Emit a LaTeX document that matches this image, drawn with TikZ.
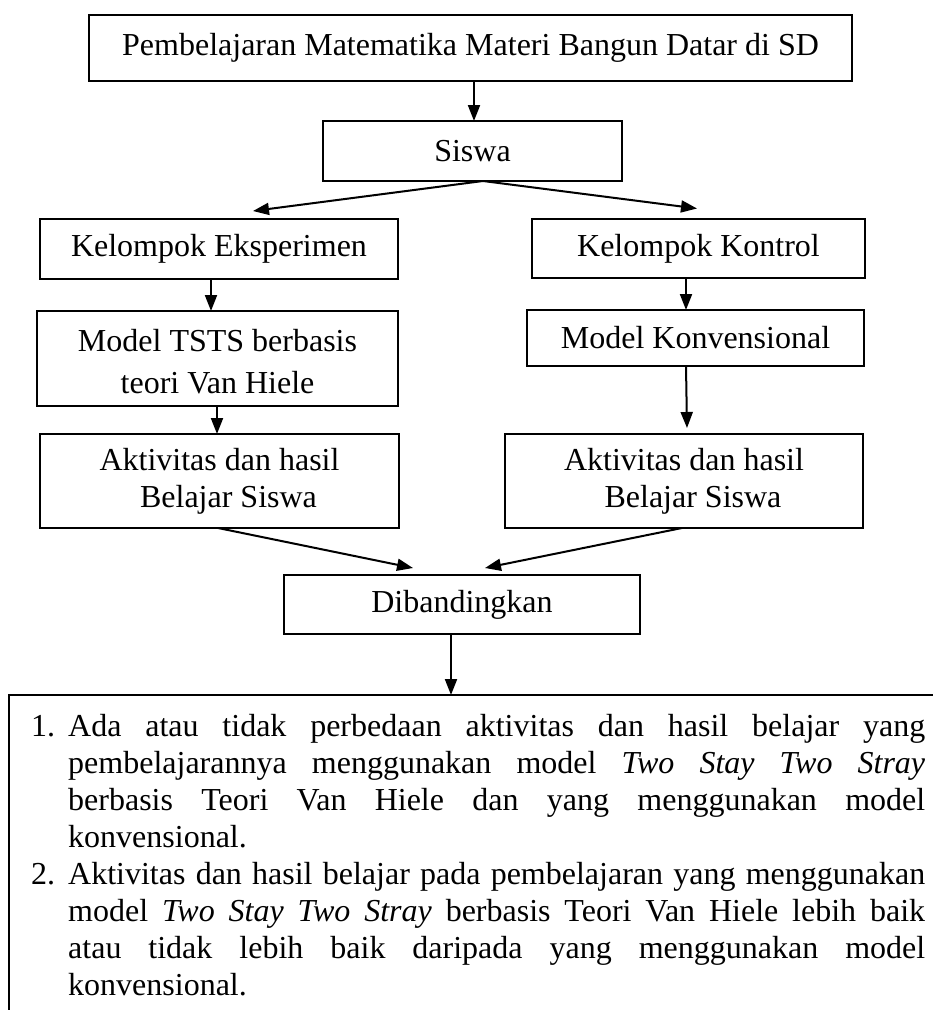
\documentclass[tikz,border=0pt]{standalone}
\usepackage{fontspec}
\setmainfont{Liberation Serif}
\usetikzlibrary{arrows.meta}
\begin{document}
\begin{tikzpicture}[x=1pt,y=-1pt,
  box/.style={draw,line width=1.5pt,inner sep=0pt,outer sep=0pt,align=center,font=\fontsize{32}{40}\selectfont},
  arr/.style={line width=2pt,-{Triangle[length=16pt,width=12pt]}},
  para/.style={anchor=base west,inner sep=0pt,text width=857pt,align=justify,font=\fontsize{32}{37.3}\selectfont},
  num/.style={anchor=base west,inner sep=0pt,font=\fontsize{32}{37.3}\selectfont}]
\useasboundingbox (0,0) rectangle (933,1010);
\node[box,minimum width=763pt,minimum height=66pt] (top) at (470.5,48) {Pembelajaran Matematika Materi Bangun Datar di SD};
\node[box,minimum width=299pt,minimum height=60pt] (siswa) at (472.5,151) {Siswa};
\node[box,minimum width=358pt,minimum height=60pt] (ke) at (219,249) {Kelompok Eksperimen};
\node[box,minimum width=333pt,minimum height=59pt] (kk) at (698.5,248.5) {Kelompok Kontrol};
\node[box,minimum width=361pt,minimum height=95pt,font=\fontsize{32}{42}\selectfont] (mt) at (217.5,358.5) {\rule{0pt}{28pt}Model TSTS berbasis\\teori Van Hiele};
\node[box,minimum width=337pt,minimum height=56pt] (mk) at (695.5,338) {Model Konvensional};
\node[box,minimum width=359pt,minimum height=94pt,font=\fontsize{32}{37}\selectfont] (al) at (219.5,481) {Aktivitas dan hasil\\\hspace*{18pt}Belajar Siswa};
\node[box,minimum width=358pt,minimum height=94pt,font=\fontsize{32}{37}\selectfont] (ar) at (684,481) {Aktivitas dan hasil\\\hspace*{18pt}Belajar Siswa};
\node[box,minimum width=356pt,minimum height=59pt] (dib) at (462,604.5) {Dibandingkan};
\begin{scope}
\clip (0,0) rectangle (933,1010);
\node[draw,line width=1.5pt,inner sep=0pt,outer sep=0pt,anchor=north west,minimum width=1000pt,minimum height=400pt] (res) at (9,695) {};
\end{scope}
\draw[arr] ([xshift=3.5pt]top.south) -- ([xshift=1.5pt]siswa.north);
\draw[arr] ([xshift=10.5pt]siswa.south) -- ([xshift=34pt,yshift=8pt]ke.north);
\draw[arr] ([xshift=10.5pt]siswa.south) -- ([xshift=-1.5pt,yshift=10.5pt]kk.north);
\draw[arr] ([xshift=-8pt]ke.south) -- ([xshift=-6.5pt]mt.north);
\draw[arr] ([xshift=-12.5pt]kk.south) -- ([xshift=-9.5pt]mk.north);
\draw[arr] ([xshift=-0.5pt]mt.south) -- ([xshift=-2.5pt]al.north);
\draw[arr] ([xshift=-9.5pt]mk.south) -- ([xshift=3pt,yshift=6pt]ar.north);
\draw[arr] ([xshift=-1.5pt]al.south) -- ([xshift=-49pt,yshift=7pt]dib.north);
\draw[arr] ([xshift=-2pt]ar.south) -- ([xshift=23pt,yshift=7pt]dib.north);
\draw[arr] ([xshift=-11pt]dib.south) -- ([xshift=-11pt]dib.south |- res.north);
\node[num] (n1) at (31,736) {1.};
\node[para] (p1) at (68,736) {\hyphenpenalty=10000\tolerance=10000 Ada atau tidak perbedaan aktivitas dan hasil belajar yang\linebreak pembelajarannya menggunakan model \textit{Two Stay Two Stray}\linebreak berbasis Teori Van Hiele dan yang menggunakan model\linebreak konvensional.};
\node[num] (n2) at (31,884) {2.};
\node[para] (p2) at (68,884) {\hyphenpenalty=10000\tolerance=10000 Aktivitas dan hasil belajar pada pembelajaran yang menggunakan\linebreak model \textit{Two Stay Two Stray} berbasis Teori Van Hiele lebih baik\linebreak atau tidak lebih baik daripada yang menggunakan model\linebreak konvensional.};
\end{tikzpicture}
\end{document}
